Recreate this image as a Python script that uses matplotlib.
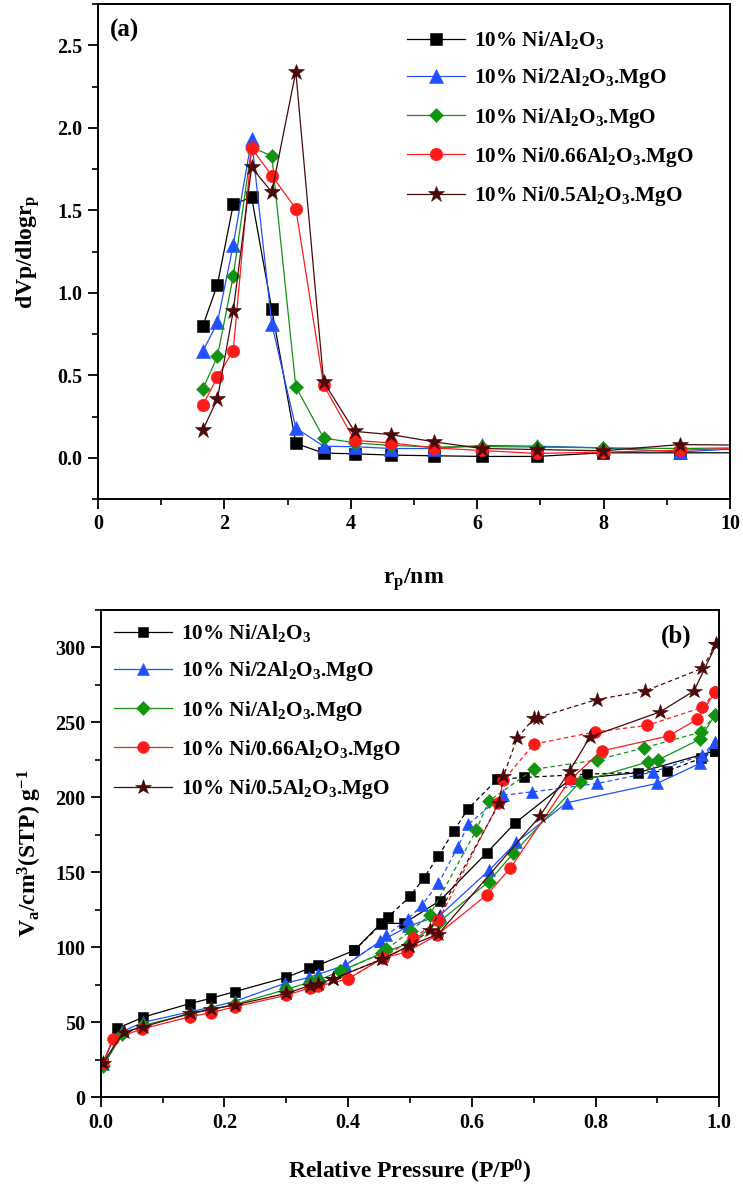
import matplotlib
matplotlib.use("Agg")
import matplotlib.pyplot as plt
from matplotlib.ticker import MultipleLocator

plt.rcParams['font.family'] = ['Liberation Serif', 'DejaVu Serif']
plt.rcParams['font.weight'] = 'bold'
plt.rcParams['mathtext.fontset'] = 'custom'
plt.rcParams['mathtext.rm'] = 'Liberation Serif:bold'
plt.rcParams['mathtext.bf'] = 'Liberation Serif:bold'
plt.rcParams['mathtext.it'] = 'Liberation Serif:bold'

# ---------------- data ----------------
labels = ['10% Ni/Al$_2$O$_3$', '10% Ni/2Al$_2$O$_3$.MgO', '10% Ni/Al$_2$O$_3$.MgO',
          '10% Ni/0.66Al$_2$O$_3$.MgO', '10% Ni/0.5Al$_2$O$_3$.MgO']
colors = ['#000000', '#2050ff', '#129312', '#ff1a1a', '#4a0808']
markers = ['s', '^', 'D', 'o', '*']

# panel (a): pore size distribution
rp = [1.66, 1.89, 2.14, 2.43, 2.75, 3.13, 3.57, 4.06, 4.64, 5.31, 6.07, 6.94, 7.99, 9.21, 10.6]
psd_black = [0.80, 1.05, 1.535, 1.58, 0.90, 0.087, 0.028, 0.024, 0.016, 0.012, 0.008, 0.008, 0.03, 0.03, 0.03]
psd_blue  = [0.645, 0.82, 1.29, 1.93, 0.81, 0.18, 0.07, 0.067, 0.056, 0.056, 0.075, 0.07, 0.06, 0.035, 0.065]
psd_green = [0.417, 0.615, 1.10, 1.88, 1.83, 0.43, 0.12, 0.09, 0.075, 0.065, 0.068, 0.065, 0.06, 0.056, 0.062]
psd_red   = [0.32, 0.49, 0.65, 1.877, 1.71, 1.51, 0.44, 0.105, 0.09, 0.06, 0.044, 0.026, 0.034, 0.046, 0.062]
psd_star  = [0.17, 0.357, 0.89, 1.76, 1.61, 2.34, 0.46, 0.16, 0.14, 0.097, 0.056, 0.05, 0.042, 0.08, 0.075]
psd = [psd_black, psd_blue, psd_green, psd_red, psd_star]

# panel (b): isotherms, adsorption (solid) and desorption (dashed)
ads_x_black = [0.004, 0.027, 0.069, 0.144, 0.178, 0.217, 0.300, 0.337, 0.351, 0.410, 0.453, 0.490, 0.548, 0.624, 0.670, 0.759, 0.868, 0.993]
ads_y_black = [23, 46, 53.5, 62.5, 66, 70.5, 80, 86, 88, 98, 116, 116, 131, 163, 183, 212, 216.5, 231]
des_x_black = [0.993, 0.970, 0.915, 0.786, 0.684, 0.641, 0.594, 0.571, 0.546, 0.522, 0.500, 0.465, 0.454, 0.410]
des_y_black = [231, 226, 217.5, 215.5, 213.3, 212, 192.5, 177.7, 161, 146, 134, 120.4, 115.5, 98]

ads_x_blue = [0.004, 0.035, 0.069, 0.144, 0.178, 0.217, 0.298, 0.337, 0.351, 0.395, 0.452, 0.497, 0.549, 0.628, 0.672, 0.753, 0.899, 0.969, 0.993]
ads_y_blue = [22, 44, 50, 57, 60, 64, 76, 80, 82, 88, 104, 114, 121.5, 151.5, 170, 196.4, 209.3, 222.7, 237]
des_x_blue = [0.993, 0.972, 0.893, 0.803, 0.698, 0.650, 0.594, 0.577, 0.546, 0.519, 0.497, 0.462, 0.452, 0.395]
des_y_blue = [237, 228, 217, 209.3, 203.7, 201.5, 182, 166.7, 142.7, 128, 119, 108, 104, 88]

ads_x_green = [0.004, 0.035, 0.069, 0.144, 0.178, 0.217, 0.300, 0.340, 0.351, 0.387, 0.454, 0.500, 0.547, 0.627, 0.667, 0.775, 0.885, 0.901, 0.968, 0.993]
ads_y_green = [21, 42, 48, 55.5, 58.5, 62, 72, 77, 78, 84, 96, 103, 117, 143.7, 162.7, 210.4, 223.7, 225, 238.7, 255]
des_x_green = [0.993, 0.971, 0.878, 0.802, 0.700, 0.627, 0.607, 0.532, 0.501, 0.462, 0.454, 0.387]
des_y_green = [255, 243.7, 233, 225, 218.7, 197.5, 178, 121.5, 111, 98.6, 96, 84]

ads_x_red = [0.004, 0.020, 0.066, 0.144, 0.178, 0.217, 0.300, 0.338, 0.351, 0.400, 0.457, 0.495, 0.543, 0.624, 0.662, 0.759, 0.810, 0.918, 0.964, 0.993]
ads_y_red = [23, 38.7, 45.5, 53.7, 56.4, 60.4, 68, 73, 74, 79, 93, 97, 108, 135, 152.7, 212, 231, 241, 252, 270]
des_x_red = [0.993, 0.972, 0.883, 0.799, 0.700, 0.651, 0.643, 0.546, 0.505, 0.457, 0.400]
des_y_red = [270, 260, 248, 243.7, 235.5, 211.5, 196, 118, 106, 93, 79]

ads_x_star = [0.004, 0.037, 0.069, 0.144, 0.178, 0.217, 0.300, 0.338, 0.351, 0.376, 0.454, 0.499, 0.546, 0.710, 0.758, 0.791, 0.904, 0.959, 0.995]
ads_y_star = [23, 43.5, 47, 56, 58.7, 61.6, 69.3, 74.5, 75.8, 79, 92, 101, 109, 187.5, 217.7, 240.4, 257, 271, 302]
des_x_star = [0.995, 0.972, 0.880, 0.802, 0.707, 0.700, 0.673, 0.651, 0.644, 0.532, 0.499, 0.454, 0.376]
des_y_star = [302, 286, 271, 265.3, 253.3, 252.7, 239.3, 214.2, 196, 111.5, 101, 92, 79]

ads = [(ads_x_black, ads_y_black), (ads_x_blue, ads_y_blue), (ads_x_green, ads_y_green),
       (ads_x_red, ads_y_red), (ads_x_star, ads_y_star)]
des = [(des_x_black, des_y_black), (des_x_blue, des_y_blue), (des_x_green, des_y_green),
       (des_x_red, des_y_red), (des_x_star, des_y_star)]

msize_a = [8.5, 9.5, 7.5, 9.0, 12.0]
msize_b = [7.5, 9.0, 7.0, 8.5, 11.5]

# ---------------- figure ----------------
fig = plt.figure(figsize=(7.43, 11.93), dpi=100)
W, H = 743.0, 1193.0

def axrect(l, t, r, b):
    return [l / W, 1 - b / H, (r - l) / W, (b - t) / H]

ax1 = fig.add_axes(axrect(98, 4, 730, 499))
ax2 = fig.add_axes(axrect(100.7, 610, 719.3, 1097.3))

def style(ax):
    for s in ax.spines.values():
        s.set_linewidth(1.4)
    ax.tick_params(which='major', direction='out', length=7, width=1.3, labelsize=14.5, pad=4,
                   top=False, right=False)
    ax.tick_params(which='minor', direction='out', length=4, width=1.2, top=False, right=False)
    for lab in ax.get_xticklabels() + ax.get_yticklabels():
        lab.set_fontweight('bold')

# panel (a)
for i in range(5):
    ax1.plot(rp, psd[i], color=colors[i], marker=markers[i], markersize=msize_a[i],
             linewidth=0.9, markeredgewidth=0.4, markeredgecolor=colors[i], label=labels[i])
ax1.set_xlim(0, 10)
ax1.set_ylim(-0.25, 2.75)
ax1.set_xticks([0, 2, 4, 6, 8, 10])
ax1.set_xticklabels(['0', '2', '4', '6', '8', '10'])
ax1.xaxis.set_minor_locator(MultipleLocator(1))
ax1.set_yticks([0.0, 0.5, 1.0, 1.5, 2.0, 2.5])
ax1.set_yticklabels(['0.0', '0.5', '1.0', '1.5', '2.0', '2.5'])
ax1.yaxis.set_minor_locator(MultipleLocator(0.25))
style(ax1)
ax1.set_xlabel(r'r$_{\mathrm{p}}$/nm', fontsize=17, fontweight='bold', labelpad=23)
ax1.set_ylabel(r'dVp/dlogr$_{\mathrm{p}}$', fontsize=17, fontweight='bold', labelpad=11)
ax1.text(125 / W, 1 - 30 / H, '(a)', transform=fig.transFigure, fontsize=18,
         fontweight='bold', ha='center', va='center')
ax1.legend(loc='upper left', bbox_to_anchor=(407 / W, 1 - 29 / H), bbox_transform=fig.transFigure,
           frameon=False, fontsize=15.3, handlelength=2.75, handletextpad=0.4, labelspacing=0.72,
           numpoints=1, borderpad=0, borderaxespad=0)

# panel (b)
for i in range(5):
    ax2.plot(ads[i][0], ads[i][1], color=colors[i], marker=markers[i], markersize=msize_b[i],
             linewidth=0.9, markeredgewidth=0.4, markeredgecolor=colors[i], label=labels[i])
    ax2.plot(des[i][0], des[i][1], color=colors[i], marker=markers[i], markersize=msize_b[i],
             linewidth=0.9, linestyle=(0, (3.5, 2.5)), markeredgewidth=0.4, markeredgecolor=colors[i])
ax2.set_xlim(0, 1.0)
ax2.set_ylim(0, 325)
ax2.set_xticks([0.0, 0.2, 0.4, 0.6, 0.8, 1.0])
ax2.set_xticklabels(['0.0', '0.2', '0.4', '0.6', '0.8', '1.0'])
ax2.xaxis.set_minor_locator(MultipleLocator(0.1))
ax2.set_yticks([0, 50, 100, 150, 200, 250, 300])
ax2.set_yticklabels(['0', '50', '100', '150', '200', '250', '300'])
ax2.yaxis.set_minor_locator(MultipleLocator(25))
style(ax2)
ax2.set_xlabel(r'Relative Pressure (P/P$^{0}$)', fontsize=17, fontweight='bold', labelpad=18)
ax2.set_ylabel(r'V$_{\mathrm{a}}$/cm$^{3}$(STP) g$^{-1}$', fontsize=17, fontweight='bold', labelpad=8)
ax2.text(676 / W, 1 - 636 / H, '(b)', transform=fig.transFigure, fontsize=18,
         fontweight='bold', ha='center', va='center')
ax2.legend(loc='upper left', bbox_to_anchor=(114 / W, 1 - 622 / H), bbox_transform=fig.transFigure,
           frameon=False, fontsize=15.3, handlelength=2.75, handletextpad=0.4, labelspacing=0.72,
           numpoints=1, borderpad=0, borderaxespad=0)

fig.savefig('out.png', dpi=100)
